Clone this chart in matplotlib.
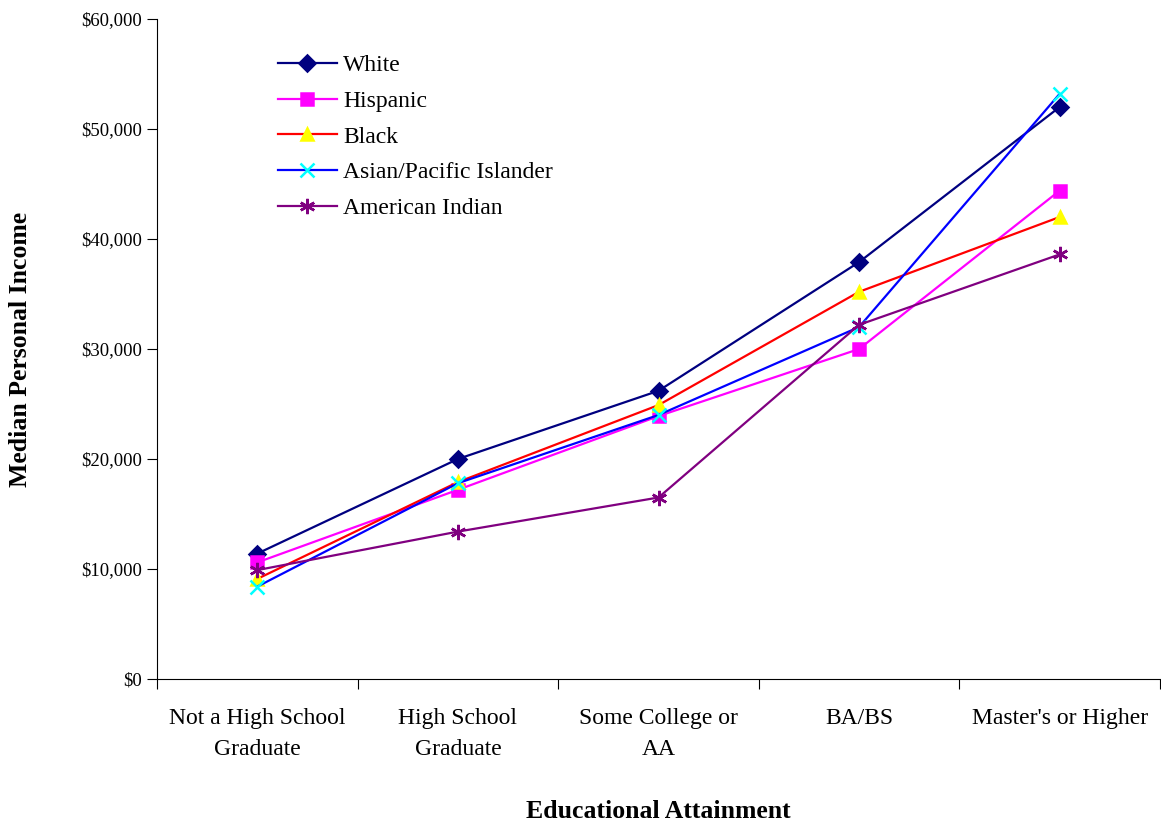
import matplotlib.pyplot as plt

plt.rcParams['font.family'] = ['Liberation Serif', 'DejaVu Serif']

categories = ['Not a High School\nGraduate', 'High School\nGraduate', 'Some College or\nAA',
              'BA/BS', "Master's or Higher"]
white = [11400, 20000, 26200, 37900, 52000]
hispanic = [10600, 17200, 23900, 30000, 44400]
black = [9100, 17900, 24900, 35200, 42000]
asian = [8400, 17800, 24000, 32000, 53200]
am_indian = [9900, 13400, 16500, 32200, 38600]

series = [
    ('White', white, '#000080', 'D', '#000080', 8),
    ('Hispanic', hispanic, '#FF00FF', 's', '#FF00FF', 8),
    ('Black', black, '#FF0000', '^', '#FFFF00', 9),
    ('Asian/Pacific Islander', asian, '#0000FF', 'x', '#00FFFF', 10),
    ('American Indian', am_indian, '#800080', (6, 2, 0), '#800080', 11),
]

fig = plt.figure(figsize=(11.61, 8.23), dpi=100)
ax = fig.add_axes([157 / 1161, 1 - 679 / 823, 1003 / 1161, 660 / 823])

xs = list(range(len(categories)))
for name, vals, lc, mk, mc, ms in series:
    ax.plot(xs, vals, color=lc, lw=1.6, marker=mk, markersize=ms,
            markerfacecolor=mc, markeredgecolor=mc, markeredgewidth=1.8, label=name)

ax.set_xlim(-0.5, len(categories) - 0.5)
ax.set_ylim(0, 60000)
ax.set_yticks(range(0, 60001, 10000))
ax.set_yticklabels(['${:,}'.format(v) for v in range(0, 60001, 10000)])

ax.set_xticks([i - 0.5 for i in range(len(categories) + 1)])
ax.set_xticklabels([])
ax.set_xticks(xs, minor=True)
ax.set_xticklabels(categories, minor=True, fontsize=17)
ax.tick_params(axis='x', which='minor', length=0, pad=21)
ax.tick_params(axis='x', which='major', length=7, direction='out')
ax.tick_params(axis='y', length=7, direction='out', labelsize=13.5, pad=4)
for lbl in ax.get_xticklabels(minor=True):
    lbl.set_linespacing(1.6)

ax.spines['top'].set_visible(False)
ax.spines['right'].set_visible(False)

ax.set_xlabel('Educational Attainment', fontsize=18.5, fontweight='bold', labelpad=29)
ax.set_ylabel('Median Personal Income', fontsize=18.5, fontweight='bold', labelpad=35)

ax.legend(loc='upper left', bbox_to_anchor=(0.1206, 0.946), frameon=False, fontsize=17,
          handlelength=2.5, labelspacing=0.6, handletextpad=0.25,
          borderaxespad=0, borderpad=0)

fig.savefig('out.png', dpi=100)
